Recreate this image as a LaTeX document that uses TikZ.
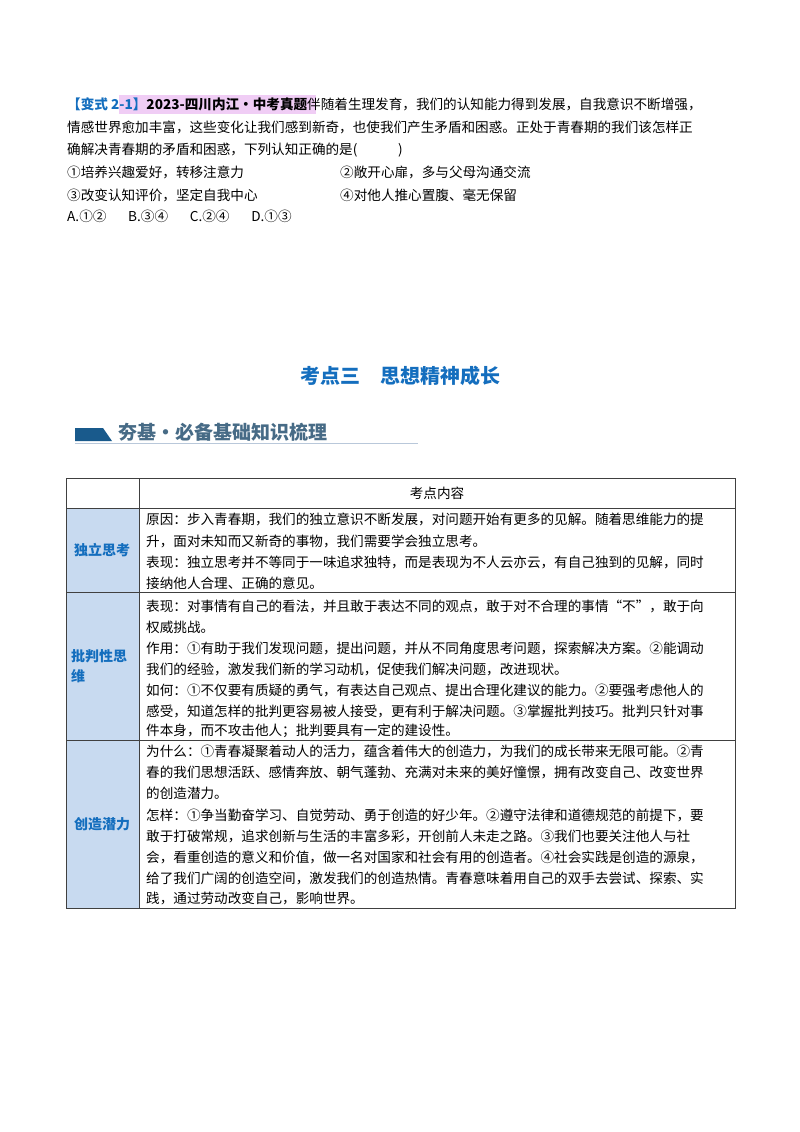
\documentclass[tikz,border=0pt]{standalone}
\usepackage{fontspec}
\setmainfont{Noto Sans CJK SC}
\definecolor{kdblue}{RGB}{20,110,190}
\definecolor{cellblue}{RGB}{200,218,240}
\definecolor{bannerblue}{RGB}{25,90,140}
\definecolor{pinkhl}{RGB}{240,205,245}
\begin{document}
\begin{tikzpicture}[x=1pt,y=-1pt,
    txt/.style={anchor=west,inner sep=0pt,font=\fontsize{13.6}{16}\selectfont},
    lab/.style={inner sep=0pt,font=\fontsize{14}{20}\selectfont\bfseries,text=kdblue,align=left}]

    % 页面
    \useasboundingbox (0,0) rectangle (800,1132);

    % 题目
    \fill[pinkhl] (119,95) rectangle (316,114);
    \node[txt] (q1) at (67,104) {{\color{kdblue}\bfseries 【变式 2-1】}{\bfseries 2023-四川内江·中考真题}伴随着生理发育，我们的认知能力得到发展，自我意识不断增强，};
    \node[txt] (q2) at (67,127) {情感世界愈加丰富，这些变化让我们感到新奇，也使我们产生矛盾和困惑。正处于青春期的我们该怎样正};
    \node[txt] (q3) at (67,150) {确解决青春期的矛盾和困惑，下列认知正确的是(\hspace{3em})};
    \node[txt] (o1) at (67,172) {①培养兴趣爱好，转移注意力};
    \node[txt] (o2) at (340,172) {②敞开心扉，多与父母沟通交流};
    \node[txt] (o3) at (67,195) {③改变认知评价，坚定自我中心};
    \node[txt] (o4) at (340,195) {④对他人推心置腹、毫无保留};
    \node[txt] (ans) at (67,216) {A.①②\hspace{1.6em}B.③④\hspace{1.6em}C.②④\hspace{1.6em}D.①③};

    % 标题
    \node[font=\fontsize{20}{24}\selectfont\bfseries,text=kdblue] (title) at (400,376) {考点三\quad 思想精神成长};

    % 栏目条
    \fill[bannerblue] (75,428) -- (103,428) -- (112,441) -- (75,441) -- cycle;
    \draw[cellblue!80!gray,line width=1pt] (75,443) -- (418,443);
    \node[anchor=west,inner sep=0pt,font=\fontsize{19}{22}\selectfont\bfseries,text=bannerblue!55!gray] (banner) at (118,432) {夯基·必备基础知识梳理};

    % 表格
    \fill[cellblue] (66,508) rectangle (139,908);
    \draw[thick,black!75] (66,478) rectangle (735,908);
    \draw[thick,black!75] (139,478) -- (139,908);
    \foreach \yy in {508,592,740} \draw[thick,black!75] (66,\yy) -- (735,\yy);
    \node[font=\fontsize{13.6}{16}\selectfont] (head) at (437,493) {考点内容};

    % 左栏
    \node[lab] (r1) at (102,550) {独立思考};
    \node[lab,anchor=west] (r2) at (71,666) {批判性思\\维};
    \node[lab] (r3) at (102,824) {创造潜力};

    % 独立思考
    \node[txt] (a1) at (146,519) {原因：步入青春期，我们的独立意识不断发展，对问题开始有更多的见解。随着思维能力的提};
    \node[txt] (a2) at (146,541) {升，面对未知而又新奇的事物，我们需要学会独立思考。};
    \node[txt] (a3) at (146,562) {表现：独立思考并不等同于一味追求独特，而是表现为不人云亦云，有自己独到的见解，同时};
    \node[txt] (a4) at (146,583) {接纳他人合理、正确的意见。};

    % 批判性思维
    \node[txt] (b1) at (146,606) {表现：对事情有自己的看法，并且敢于表达不同的观点，敢于对不合理的事情“不”，敢于向};
    \node[txt] (b2) at (146,627) {权威挑战。};
    \node[txt] (b3) at (146,648) {作用：①有助于我们发现问题，提出问题，并从不同角度思考问题，探索解决方案。②能调动};
    \node[txt] (b4) at (146,669) {我们的经验，激发我们新的学习动机，促使我们解决问题，改进现状。};
    \node[txt] (b5) at (146,690) {如何：①不仅要有质疑的勇气，有表达自己观点、提出合理化建议的能力。②要强考虑他人的};
    \node[txt] (b6) at (146,711) {感受，知道怎样的批判更容易被人接受，更有利于解决问题。③掌握批判技巧。批判只针对事};
    \node[txt] (b7) at (146,731) {件本身，而不攻击他人；批判要具有一定的建设性。};

    % 创造潜力
    \node[txt] (c1) at (146,751) {为什么：①青春凝聚着动人的活力，蕴含着伟大的创造力，为我们的成长带来无限可能。②青};
    \node[txt] (c2) at (146,772) {春的我们思想活跃、感情奔放、朝气蓬勃、充满对未来的美好憧憬，拥有改变自己、改变世界};
    \node[txt] (c3) at (146,793) {的创造潜力。};
    \node[txt] (c4) at (146,815) {怎样：①争当勤奋学习、自觉劳动、勇于创造的好少年。②遵守法律和道德规范的前提下，要};
    \node[txt] (c5) at (146,836) {敢于打破常规，追求创新与生活的丰富多彩，开创前人未走之路。③我们也要关注他人与社};
    \node[txt] (c6) at (146,857) {会，看重创造的意义和价值，做一名对国家和社会有用的创造者。④社会实践是创造的源泉，};
    \node[txt] (c7) at (146,878) {给了我们广阔的创造空间，激发我们的创造热情。青春意味着用自己的双手去尝试、探索、实};
    \node[txt] (c8) at (146,898) {践，通过劳动改变自己，影响世界。};

\end{tikzpicture}
\end{document}
